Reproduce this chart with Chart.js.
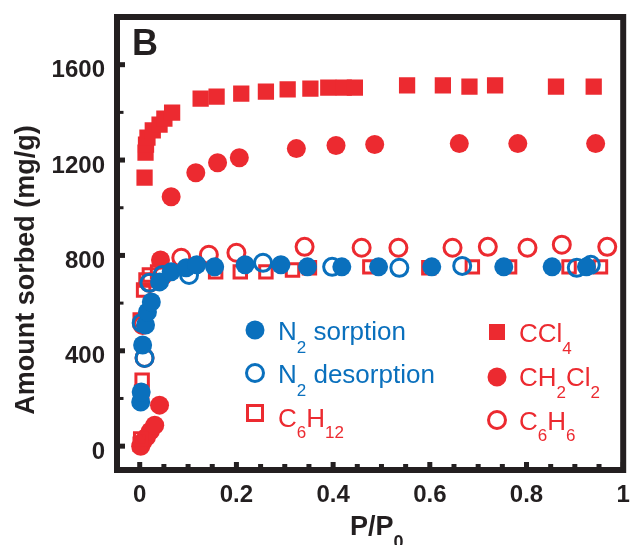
<!DOCTYPE html>
<html><head><meta charset="utf-8">
<script src="https://cdn.jsdelivr.net/npm/chart.js@4.4.1/dist/chart.umd.min.js"></script>
<style>html,body{margin:0;padding:0;background:#fff;}#wrap{width:635px;height:545px;}</style>
</head><body><div id="wrap"><canvas id="c" width="635" height="545"></canvas></div>
<script>
// ---- tick definitions ----
const xTicks = [0, 0.2, 0.4, 0.6, 0.8, 1];
const xTickLabels = ['0', '0.2', '0.4', '0.6', '0.8', '1'];
const xMinorTicks = [0.05, 0.1, 0.15, 0.25, 0.3, 0.35, 0.45, 0.5, 0.55, 0.65, 0.7, 0.75, 0.85, 0.9, 0.95];
const yTicks = [0, 400, 800, 1200, 1600];
const yTickLabels = ['0', '400', '800', '1200', '1600'];
const yMinorTicks = [200, 600, 1000, 1400];

// ---- series (P/P0, amount sorbed mg/g) ----
const n2SorpP = [0.002, 0.003, 0.006, 0.012, 0.016, 0.024, 0.041, 0.065, 0.096, 0.118, 0.155, 0.218, 0.292, 0.347, 0.418, 0.494, 0.604, 0.753, 0.853, 0.924];
const n2SorpV = [185, 227, 424, 508, 563, 605, 689, 731, 748, 761, 752, 761, 761, 752, 752, 752, 752, 752, 752, 752];

const n2DesP = [0.004, 0.010, 0.020, 0.047, 0.102, 0.255, 0.398, 0.537, 0.667, 0.904, 0.933];
const n2DesV = [517, 370, 685, 718, 718, 769, 752, 748, 756, 748, 761];

const c6h12P = [0.001, 0.002, 0.004, 0.005, 0.001, 0.008, 0.013, 0.020, 0.037, 0.157, 0.208, 0.261, 0.316, 0.351, 0.476, 0.598, 0.688, 0.765, 0.888, 0.953];
const c6h12V = [8, 30, 227, 277, 529, 655, 697, 718, 731, 731, 731, 731, 739, 748, 752, 748, 752, 752, 752, 752];

const ccl4P = [0.010, 0.012, 0.013, 0.016, 0.027, 0.041, 0.051, 0.067, 0.126, 0.159, 0.210, 0.261, 0.306, 0.353, 0.390, 0.422, 0.445, 0.553, 0.627, 0.682, 0.735, 0.861, 0.939];
const ccl4V = [1126, 1231, 1265, 1294, 1324, 1349, 1374, 1399, 1458, 1466, 1479, 1487, 1496, 1500, 1504, 1504, 1504, 1513, 1513, 1508, 1513, 1508, 1508];

const ch2cl2P = [0.002, 0.006, 0.014, 0.022, 0.031, 0.041, 0.043, 0.065, 0.116, 0.161, 0.206, 0.324, 0.406, 0.486, 0.661, 0.782, 0.943];
const ch2cl2V = [0, 17, 38, 63, 88, 172, 781, 1046, 1147, 1189, 1210, 1248, 1261, 1265, 1269, 1269, 1269];

const c6h6P = [0.010, 0.006, 0.020, 0.047, 0.086, 0.143, 0.200, 0.341, 0.459, 0.535, 0.647, 0.720, 0.802, 0.873, 0.967];
const c6h6V = [370, 508, 685, 714, 790, 803, 811, 836, 832, 832, 832, 836, 832, 845, 836];

const RED = '#ec2a30';
const BLUE = '#0a70bd';
const INK = '#231f20';
const FONT = '"Liberation Sans", Arial, Helvetica, sans-serif';

const pts = (xs, ys) => xs.map((x, i) => ({x: x, y: ys[i]}));

function drawRich(ctx, parts, x, base, size, subSize, drop, color, weight) {
  ctx.fillStyle = color;
  ctx.textAlign = 'left';
  ctx.textBaseline = 'alphabetic';
  let cx = x;
  parts.forEach(p => {
    const sub = p[1] === 1;
    ctx.font = (weight || '') + ' ' + (sub ? subSize : size) + 'px ' + FONT;
    ctx.fillText(p[0], cx, sub ? base + drop : base);
    cx += ctx.measureText(p[0]).width;
  });
}

function marker(ctx, type, x, y) {
  ctx.save();
  if (type === 'fcircle' || type === 'hcircle') {
    ctx.beginPath();
    ctx.arc(x, y, type === 'fcircle' ? 9.5 : 8.5, 0, Math.PI * 2);
  }
  ctx.restore();
}

const decor = {
  id: 'decor',
  afterDraw(chart) {
    const ctx = chart.ctx;
    const a = chart.chartArea;
    const xs = chart.scales.x, ys = chart.scales.y;
    ctx.save();
    // ticks (inward)
    ctx.fillStyle = INK;
    yTicks.forEach(v => { const y = ys.getPixelForValue(v); ctx.fillRect(a.left + 3, y - 2.5, 5, 5); });
    yMinorTicks.forEach(v => { const y = ys.getPixelForValue(v); ctx.fillRect(a.left + 3, y - 1.5, 3.5, 3); });
    xTicks.forEach(v => { const x = xs.getPixelForValue(v); ctx.fillRect(x - 2.5, a.bottom - 8, 5, 5); });
    xMinorTicks.forEach(v => { const x = xs.getPixelForValue(v); ctx.fillRect(x - 2.5, a.bottom - 6, 5, 3); });
    // frame
    ctx.strokeStyle = INK;
    ctx.lineWidth = 6;
    ctx.strokeRect(a.left, a.top, a.right - a.left, a.bottom - a.top);
    // tick labels
    ctx.font = 'bold 24px ' + FONT;
    ctx.fillStyle = INK;
    ctx.textBaseline = 'alphabetic';
    ctx.textAlign = 'right';
    yTicks.forEach((v, i) => { ctx.fillText(yTickLabels[i], 105, ys.getPixelForValue(v) + 12.5); });
    ctx.textAlign = 'center';
    xTicks.forEach((v, i) => { ctx.fillText(xTickLabels[i], xs.getPixelForValue(v), 502); });
    // y title
    ctx.save();
    ctx.translate(34, 270);
    ctx.rotate(-Math.PI / 2);
    ctx.font = 'bold 27px ' + FONT;
    ctx.textAlign = 'center';
    ctx.fillText('Amount sorbed (mg/g)', 0, 0);
    ctx.restore();
    // x title
    drawRich(ctx, [['P/P', 0], ['0', 1]], 350, 535, 27, 18, 13, INK, 'bold');
    // panel letter
    ctx.font = 'bold 36px ' + FONT;
    ctx.textAlign = 'left';
    ctx.fillText('B', 132, 55);

    // legend markers
    ctx.fillStyle = BLUE;
    ctx.beginPath(); ctx.arc(255, 330, 9.5, 0, Math.PI * 2); ctx.fill();
    ctx.strokeStyle = BLUE; ctx.lineWidth = 3;
    ctx.beginPath(); ctx.arc(255, 373, 8.5, 0, Math.PI * 2); ctx.stroke();
    ctx.strokeStyle = RED;
    ctx.strokeRect(255 - 7.5, 413 - 7.5, 15, 15);
    ctx.fillStyle = RED;
    ctx.fillRect(497 - 8, 332 - 8, 16, 16);
    ctx.beginPath(); ctx.arc(497, 377, 9.5, 0, Math.PI * 2); ctx.fill();
    ctx.beginPath(); ctx.arc(497, 420, 8.5, 0, Math.PI * 2); ctx.stroke();

    // legend texts
    drawRich(ctx, [['N', 0], ['2', 1], [' sorption', 0]], 278, 340, 26, 17, 13, BLUE, '');
    drawRich(ctx, [['N', 0], ['2', 1], [' desorption', 0]], 278, 383, 26, 17, 13, BLUE, '');
    drawRich(ctx, [['C', 0], ['6', 1], ['H', 0], ['12', 1]], 278, 427, 26, 17, 11, RED, '');
    drawRich(ctx, [['CCl', 0], ['4', 1]], 519, 342, 26, 17, 12, RED, '');
    drawRich(ctx, [['CH', 0], ['2', 1], ['Cl', 0], ['2', 1]], 519, 386, 26, 17, 12, RED, '');
    drawRich(ctx, [['C', 0], ['6', 1], ['H', 0], ['6', 1]], 519, 430, 26, 17, 11, RED, '');
    ctx.restore();
  }
};

new Chart(document.getElementById('c'), {
  type: 'scatter',
  data: {
    datasets: [
      {label: 'N2 sorption', data: pts(n2SorpP, n2SorpV), order: 0, pointStyle: 'circle', pointRadius: 9.5, backgroundColor: BLUE, borderWidth: 0},
      {label: 'N2 desorption', data: pts(n2DesP, n2DesV), order: 1, pointStyle: 'circle', pointRadius: 8.5, backgroundColor: 'rgba(0,0,0,0)', borderColor: BLUE, borderWidth: 3},
      {label: 'C6H6', data: pts(c6h6P, c6h6V), order: 2, pointStyle: 'circle', pointRadius: 8.5, backgroundColor: 'rgba(0,0,0,0)', borderColor: RED, borderWidth: 3},
      {label: 'C6H12', data: pts(c6h12P, c6h12V), order: 3, pointStyle: 'rect', pointRadius: 8.8, backgroundColor: 'rgba(0,0,0,0)', borderColor: RED, borderWidth: 3},
      {label: 'CH2Cl2', data: pts(ch2cl2P, ch2cl2V), order: 4, pointStyle: 'circle', pointRadius: 9.5, backgroundColor: RED, borderWidth: 0},
      {label: 'CCl4', data: pts(ccl4P, ccl4V), order: 5, pointStyle: 'rect', pointRadius: 11.5, backgroundColor: RED, borderWidth: 0}
    ]
  },
  options: {
    responsive: false,
    animation: false,
    events: [],
    layout: {padding: {left: 117, top: 17, right: 5, bottom: 75}},
    plugins: {legend: {display: false}, tooltip: {enabled: false}},
    scales: {
      x: {type: 'linear', min: -0.047, max: 1.0, display: false},
      y: {type: 'linear', min: -100, max: 1800, display: false}
    }
  },
  plugins: [decor]
});
</script>
</body></html>
